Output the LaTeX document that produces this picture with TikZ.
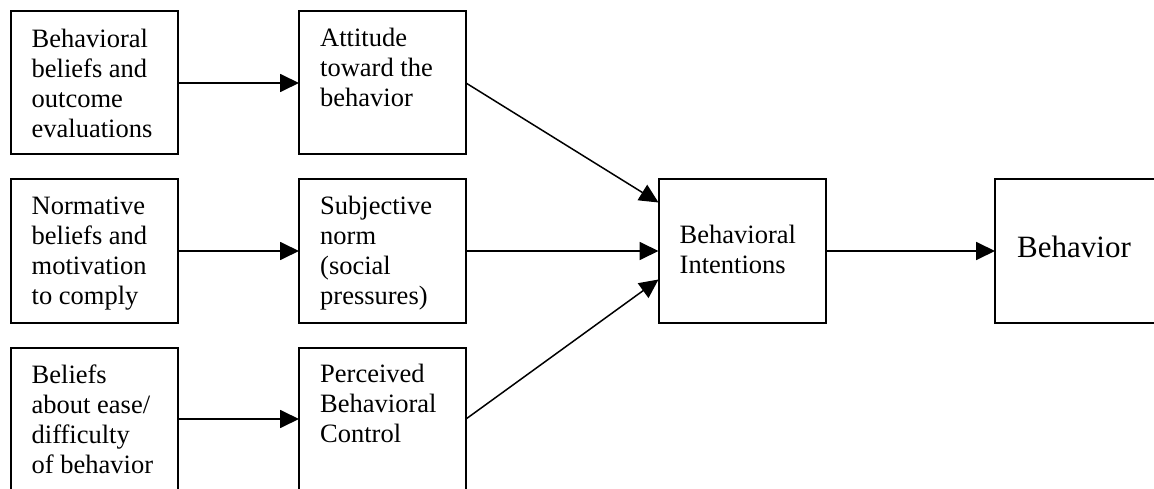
\documentclass[tikz,border=0pt]{standalone}
\usepackage{fontspec}
\setmainfont{Liberation Serif}
\usetikzlibrary{arrows.meta,calc}
\begin{document}
\begin{tikzpicture}[x=1pt,y=-1pt,
  box/.style={draw=black,line width=2pt,minimum width=167pt,minimum height=143pt,inner sep=0pt,outer sep=0pt},
  txt/.style={anchor=base west,inner sep=0pt,align=left,font=\fontsize{26.5}{30}\selectfont},
  bigtxt/.style={anchor=base west,inner sep=0pt,font=\fontsize{31}{36}\selectfont},
  conn/.style={line width=1.8pt,-{Triangle[length=19pt,width=18pt]}}]
\useasboundingbox (0,0) rectangle (1154,489);
\clip (0,0) rectangle (1154,489);
\fill[white] (0,0) rectangle (1154,489);
% boxes
\node[box] (a1) at (94,83) {};
\node[box] (b1) at (382.5,83) {};
\node[box] (a2) at (94,251) {};
\node[box] (b2) at (382.5,251) {};
\node[box] (a3) at (94,419) {};
\node[box] (b3) at (382.5,419) {};
\node[box] (c) at (742,251) {};
\node[box] (d) at (1078.5,251) {};
% texts (base anchor = last line)
\node[txt] (a1t) at ($(a1.north west)+(21,126)$) {Behavioral\\beliefs and\\outcome\\evaluations};
\node[txt] (b1t) at ($(b1.north west)+(21,95)$) {Attitude\\toward the\\behavior};
\node[txt] (a2t) at ($(a2.north west)+(21,125)$) {Normative\\beliefs and\\motivation\\to comply};
\node[txt] (b2t) at ($(b2.north west)+(21,125)$) {Subjective\\norm\\(social\\pressures)};
\node[txt] (a3t) at ($(a3.north west)+(21,126)$) {Beliefs\\about ease/\\difficulty\\of behavior};
\node[txt] (b3t) at ($(b3.north west)+(21,95)$) {Perceived\\Behavioral\\Control};
\node[txt] (ct) at ($(c.north west)+(21,94)$) {Behavioral\\Intentions};
\node[bigtxt] (dt) at ($(d.north west)+(22,78)$) {Behavior};
% entry points on c
\coordinate (cin1) at ($(c.north west)+(0,23)$);
\coordinate (cin3) at ($(c.north west)+(0,100)$);
% connectors
\draw[conn] (a1) -- (b1);
\draw[conn] (a2) -- (b2);
\draw[conn] (a3) -- (b3);
\draw[conn,line width=1.5pt] (b1.east) -- (cin1);
\draw[conn] (b2) -- (c);
\draw[conn,line width=1.5pt] (b3.east) -- (cin3);
\draw[conn] (c) -- (d);
\end{tikzpicture}
\end{document}
